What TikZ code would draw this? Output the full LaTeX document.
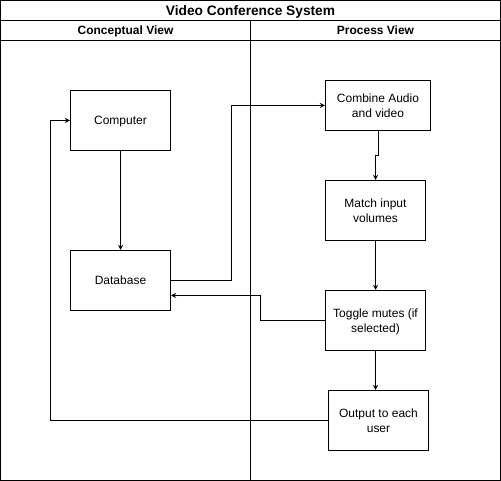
\documentclass[tikz,border=0pt]{standalone}
\usepackage{fontspec}
\setmainfont{Liberation Sans}
\usepackage{tikz}
\usetikzlibrary{arrows,positioning,calc}

\begin{document}
\begin{tikzpicture}[
    x=0.75pt, y=-0.75pt,
    line width=0.75pt,
    box/.style={rectangle, draw, minimum width=75pt, minimum height=45pt, align=center, font=\fontsize{9}{11}\selectfont, inner sep=2pt, text depth=0pt},
    head/.style={font=\fontsize{9}{11}\selectfont\bfseries, text depth=0pt},
    arrow/.style={->, >=stealth}
]
\useasboundingbox (-0.5,-0.5) rectangle (500.5,480.5);

% pool and lanes
\draw (0,0) rectangle (500,480);
\draw (0,20) -- (500,20);
\draw (0,40) -- (500,40);
\draw (250,20) -- (250,480);
\node[head, font=\fontsize{10.3}{12}\selectfont\bfseries] (title) at (250,10) {Video Conference System};
\node[head] (concept) at (125,30) {Conceptual View};
\node[head] (process) at (375,30) {Process View};

% conceptual view
\node[box] (comp) at (120,120) {Computer};
\node[box] (db) at (120,280) {Database};

% process view
\node[box, minimum width=78.75pt, minimum height=37.5pt] (combine) at (377.5,105) {Combine Audio\\and video};
\node[box] (match) at (375,210) {Match input\\volumes};
\node[box] (toggle) at (375,320) {Toggle mutes (if\\selected)};
\node[box] (out) at (378,420) {Output to each\\user};

\draw[arrow] (comp) -- (db);
\draw[arrow] (db.east) -- ++(60,0) |- (combine.west);
\draw[arrow] (combine.south) -- ++(0,25) -| (match.north);
\draw[arrow] (match) -- (toggle);
\draw[arrow] (toggle.west) -- ++(-65,0) |- ($(db.east)+(0,15)$);
\draw[arrow] (toggle.south) -- (toggle.south |- out.north);
\draw[arrow] (out.west) -- ++(-278,0) |- (comp.west);

\end{tikzpicture}
\end{document}
